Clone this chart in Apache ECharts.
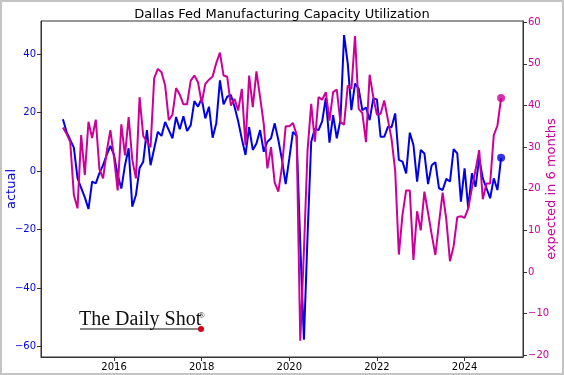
<!DOCTYPE html>
<html>
<head>
<meta charset="utf-8">
<script src="https://cdn.jsdelivr.net/npm/echarts@6.0.0/dist/echarts.min.js"></script>
<style>
  html, body { margin: 0; padding: 0; background: #fff; }
  #chart { width: 564px; height: 375px; }
</style>
</head>
<body>
<div id="chart"></div>
<script>
// monthly readings, Nov 2014 .. Nov 2024
var startYear = 2014, startMonth = 11;

var actual = [
  17.7, 13.4, 10.6, 8, -2.4, -5.8, -9, -13, -3.6, -4.2, -0.7, 2,
  5.5, 8.6, 5.5, -1.4, -6, 2, 7.8, -12.2, -8.2, 1, 3.2, 14,
  2, 7.7, 13.4, 12, 16.8, 14, 11.2, 18.5, 14.3, 18.7, 13.7, 15.7,
  23.9, 22, 24.8, 18, 22, 11.4, 16.3, 31, 22.8, 25.4, 26, 22,
  17, 11, 5.5, 15, 7.2, 9.4, 14, 6.6, 10, 11.2, 16.3, 10.6,
  3.8, -4.5, 4.3, 13.4, 12, -25, -57.7, -22, 10, 14.5, 14, 17,
  25, 9.7, 19.1, 11.2, 17.4, 46.5, 36.8, 20.8, 29.9, 28.2, 20.8, 21.7,
  17.4, 24.8, 24.5, 11.7, 11.7, 15.1, 15, 19.7, 3.8, 3.2, -0.8, 13.1,
  8.9, -3.6, 7.2, 6, -4.5, 2, 3, -5.9, -6.5, -2.7, -3.6, 7.5,
  6, -10.5, 0.9, -12.7, -0.8, -5.4, 4.3, -2.5, -5.9, -9.3, -2.5, -6.5,
  4.5
];

var expected = [
  34.7, 33.2, 31.3, 18.5, 15.3, 32.9, 23.3, 36.1, 32.2, 36.6, 24.7, 22.5,
  29, 34.1, 27.5, 19.6, 35.5, 28, 37.2, 27, 22.5, 42, 32.7, 31.3,
  30, 46.6, 48.8, 48, 44.8, 36.5, 37.8, 44.2, 42.6, 40.3, 40.3, 46,
  47.2, 45.6, 40.6, 45.2, 46.2, 47, 50.2, 52.7, 47.2, 46.9, 40, 41.6,
  38.8, 44, 30.5, 47.2, 39.6, 48.2, 42, 35.6, 24.9, 30, 21.5, 19.3,
  25.3, 35, 35, 35.8, 33, -16.5, 5, 29.3, 40.4, 31.3, 42, 41.4,
  43.2, 36.4, 43.2, 43.8, 36, 35.4, 44.8, 44, 56.7, 39.2, 38.2, 31.2,
  47.4, 42, 37.8, 38, 41.2, 36.6, 32, 24.3, 4.2, 13.8, 19.6, 19.6,
  2.9, 14.6, 10, 19.3, 14.2, 9, 4.1, 11.8, 19.1, 12.6, 2.6, 6.2,
  13.2, 13.4, 13, 15.3, 20.1, 24.5, 29.3, 17.5, 21.3, 21.3, 32.9, 35.2,
  41.8
];

var yearTicks = [2016, 2018, 2020, 2022, 2024];
var leftTicks = [-60, -40, -20, 0, 20, 40];
var rightTicks = [-20, -10, 0, 10, 20, 30, 40, 50, 60];

var BLUE = '#0000e6';
var MAGENTA = '#cc0099';

// decimal-year x values for each month
var months = actual.map(function (v, i) {
  return startYear + (startMonth - 1 + i) / 12;
});
var actualData = actual.map(function (v, i) { return [months[i], v]; });
var expectedData = expected.map(function (v, i) { return [months[i], v]; });
var last = actual.length - 1;

var x0 = months[0], x1 = months[last];
var pad = (x1 - x0) * 0.05;

function minus(v) { return String(v).replace('-', '\u2212'); }

var chart = echarts.init(document.getElementById('chart'));
chart.setOption({
  animation: false,
  backgroundColor: '#fff',
  title: {
    text: 'Dallas Fed Manufacturing Capacity Utilization',
    left: 'center',
    top: 3,
    textStyle: { fontFamily: 'DejaVu Sans', fontSize: 13, fontWeight: 'normal', color: '#000' }
  },
  grid: {
    left: 41, right: 41, top: 21, bottom: 18,
    outerBoundsMode: 'none', containLabel: false,
    show: true, borderColor: '#333', borderWidth: 1
  },
  xAxis: {
    type: 'value',
    min: x0 - pad,
    max: x1 + pad,
    splitLine: { show: false },
    axisLine: { onZero: false, lineStyle: { color: '#333' } },
    axisTick: { show: true, customValues: yearTicks, length: 4, lineStyle: { color: '#333' } },
    axisLabel: {
      customValues: yearTicks, margin: 5, color: '#000', fontSize: 10, fontFamily: 'DejaVu Sans',
      formatter: function (v) { return String(v); }
    }
  },
  yAxis: [{
    type: 'value',
    min: -63.6,
    max: 51.3,
    position: 'left',
    name: 'actual',
    nameLocation: 'middle',
    nameRotate: 90,
    nameGap: 23,
    nameMoveOverlap: false,
    nameTextStyle: { color: BLUE, fontSize: 13, fontFamily: 'DejaVu Sans' },
    splitLine: { show: false },
    axisLine: { show: true, onZero: false, lineStyle: { color: '#333' } },
    axisTick: { show: true, customValues: leftTicks, length: 4, lineStyle: { color: '#333' } },
    axisLabel: {
      customValues: leftTicks, margin: 5, color: BLUE, fontSize: 10, fontFamily: 'DejaVu Sans',
      formatter: minus
    }
  }, {
    type: 'value',
    min: -20.4,
    max: 60.3,
    position: 'right',
    name: 'expected in 6 months',
    nameLocation: 'middle',
    nameRotate: 90,
    nameGap: 22,
    nameMoveOverlap: false,
    nameTextStyle: { color: MAGENTA, fontSize: 13, fontFamily: 'DejaVu Sans' },
    splitLine: { show: false },
    axisLine: { show: true, onZero: false, lineStyle: { color: '#333' } },
    axisTick: { show: true, customValues: rightTicks, length: 4, lineStyle: { color: '#333' } },
    axisLabel: {
      customValues: rightTicks, margin: 5, color: MAGENTA, fontSize: 10, fontFamily: 'DejaVu Sans',
      formatter: minus
    }
  }],
  series: [{
    name: 'actual',
    type: 'line',
    yAxisIndex: 0,
    data: actualData,
    showSymbol: false,
    lineStyle: { color: BLUE, width: 2 },
    z: 2
  }, {
    name: 'expected in 6 months',
    type: 'line',
    yAxisIndex: 1,
    data: expectedData,
    showSymbol: false,
    lineStyle: { color: MAGENTA, width: 2 },
    z: 3
  }, {
    type: 'scatter',
    yAxisIndex: 0,
    data: [actualData[last]],
    symbolSize: 8,
    itemStyle: { color: BLUE },
    z: 4
  }, {
    type: 'scatter',
    yAxisIndex: 1,
    data: [expectedData[last]],
    symbolSize: 8,
    itemStyle: { color: MAGENTA },
    z: 4
  }],
  graphic: [{
    type: 'rect',
    shape: { x: 1, y: 1, width: 562, height: 373 },
    style: { fill: null, stroke: '#c4c4c4', lineWidth: 2 },
    silent: true
  }, {
    type: 'text',
    left: 79,
    top: 310,
    style: { text: 'The Daily Shot', font: '20px "Liberation Serif"', fill: '#111' }
  }, {
    type: 'text',
    left: 198,
    top: 311,
    style: { text: '\u00ae', font: '9px "Liberation Serif"', fill: '#111' }
  }, {
    type: 'line',
    shape: { x1: 80, y1: 329, x2: 200, y2: 329 },
    style: { stroke: '#111', lineWidth: 1 }
  }, {
    type: 'circle',
    shape: { cx: 201, cy: 329, r: 3 },
    style: { fill: '#d0021b' }
  }]
});
</script>
</body>
</html>
